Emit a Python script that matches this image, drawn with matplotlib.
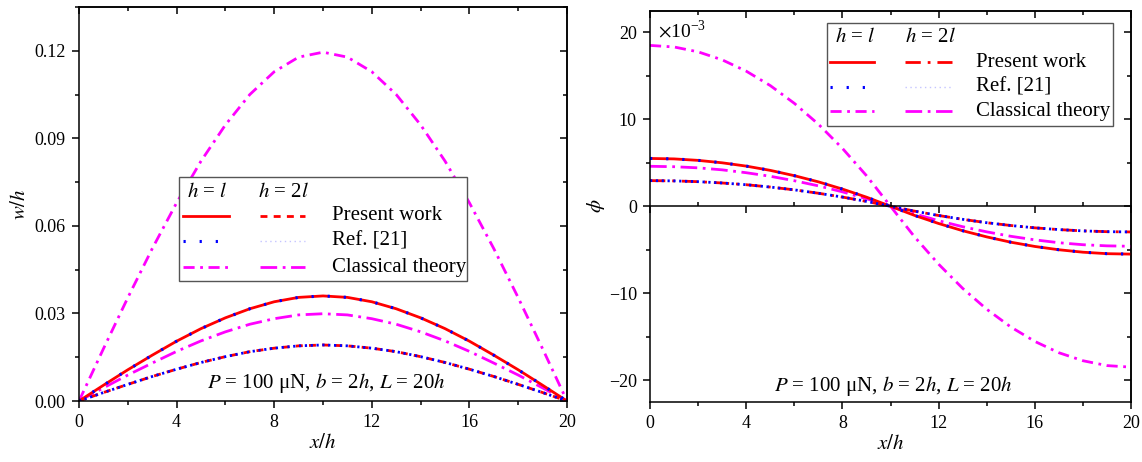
import matplotlib
matplotlib.use('Agg')
import matplotlib.pyplot as plt
from matplotlib.lines import Line2D
from matplotlib.patches import Rectangle
from matplotlib.ticker import MultipleLocator, FormatStrFormatter

plt.rcParams['font.family'] = 'Liberation Serif'
plt.rcParams['mathtext.fontset'] = 'stix'
plt.rcParams['lines.scale_dashes'] = False

# positions along the beam, x/h
x_h = [0, 1, 2, 3, 4, 5, 6, 7, 8, 9, 10, 11, 12, 13, 14, 15, 16, 17, 18, 19, 20]

# deflection w/h
w_present_l = [0, 0.0054, 0.0107, 0.0157, 0.0205, 0.0248, 0.0285, 0.0316, 0.0340, 0.0355, 0.0360,
               0.0355, 0.0340, 0.0316, 0.0285, 0.0248, 0.0205, 0.0157, 0.0107, 0.0054, 0]
w_present_2l = [0, 0.0029, 0.0057, 0.0084, 0.0109, 0.0132, 0.0152, 0.0169, 0.0181, 0.0189, 0.0192,
                0.0189, 0.0181, 0.0169, 0.0152, 0.0132, 0.0109, 0.0084, 0.0057, 0.0029, 0]
w_classic_l = [0, 0.0179, 0.0354, 0.0522, 0.0679, 0.0822, 0.0946, 0.1050, 0.1128, 0.1178, 0.1195,
               0.1178, 0.1128, 0.1050, 0.0946, 0.0822, 0.0679, 0.0522, 0.0354, 0.0179, 0]
w_classic_2l = [0, 0.0045, 0.0089, 0.0130, 0.0170, 0.0206, 0.0237, 0.0263, 0.0282, 0.0295, 0.0299,
                0.0295, 0.0282, 0.0263, 0.0237, 0.0206, 0.0170, 0.0130, 0.0089, 0.0045, 0]

# rotation phi (x 10^-3)
phi_present_l = [5.5, 5.45, 5.28, 5.0, 4.62, 4.13, 3.52, 2.81, 1.98, 1.05, 0,
                 -1.05, -1.98, -2.81, -3.52, -4.13, -4.62, -5.0, -5.28, -5.45, -5.5]
phi_present_2l = [2.95, 2.92, 2.83, 2.68, 2.48, 2.21, 1.89, 1.50, 1.06, 0.56, 0,
                  -0.56, -1.06, -1.50, -1.89, -2.21, -2.48, -2.68, -2.83, -2.92, -2.95]
phi_classic_l = [18.5, 18.32, 17.76, 16.84, 15.54, 13.88, 11.84, 9.44, 6.66, 3.52, 0,
                 -3.52, -6.66, -9.44, -11.84, -13.88, -15.54, -16.84, -17.76, -18.32, -18.5]
phi_classic_2l = [4.6, 4.55, 4.42, 4.19, 3.86, 3.45, 2.94, 2.35, 1.66, 0.87, 0,
                  -0.87, -1.66, -2.35, -2.94, -3.45, -3.86, -4.19, -4.42, -4.55, -4.6]

# Ref. [21] lies on top of the present results
w_ref_l, w_ref_2l = w_present_l, w_present_2l
phi_ref_l, phi_ref_2l = phi_present_l, phi_present_2l

RED, BLUE, MAG = '#ff0000', '#0000ff', '#ff00ff'
LW = 2.0
st_present_l = dict(color=RED, ls='-', lw=LW)
st_present_2l_left = dict(color=RED, ls=(0, (5, 4.5)), lw=LW)
st_present_2l_right = dict(color=RED, ls=(0, (11, 5, 2, 5)), lw=LW)
st_ref_l = dict(color=BLUE, ls=(0, (1.6, 10)), lw=2.2)
st_ref_2l = dict(color=BLUE, ls=(0, (1.6, 2.6)), lw=2.0)
st_ref_2l_key = dict(color='#c4c4ff', ls=(0, (1, 2.5)), lw=1.0)
st_classic_l = dict(color=MAG, ls=(0, (8, 4, 2, 4)), lw=LW)
st_classic_2l = dict(color=MAG, ls=(0, (12, 4, 2, 4)), lw=LW)

FS_TICK = 13
FS_TEXT = 15


def style_axes(ax, xmaj, xmin, ymaj, ymin):
    for s in ax.spines.values():
        s.set_linewidth(1.1)
    ax.xaxis.set_major_locator(MultipleLocator(xmaj))
    ax.xaxis.set_minor_locator(MultipleLocator(xmin))
    ax.yaxis.set_major_locator(MultipleLocator(ymaj))
    ax.yaxis.set_minor_locator(MultipleLocator(ymin))
    ax.tick_params(which='major', direction='out', length=5, width=1.1, labelsize=FS_TICK, pad=4.5)
    ax.tick_params(which='minor', direction='out', length=3, width=1.1)
    # inward ticks on the top and right frame
    top = ax.secondary_xaxis('top')
    top.xaxis.set_major_locator(MultipleLocator(xmaj))
    top.xaxis.set_minor_locator(MultipleLocator(xmin))
    top.tick_params(which='major', direction='in', length=5, width=1.1, labeltop=False)
    top.tick_params(which='minor', direction='in', length=3, width=1.1)
    right = ax.secondary_yaxis('right')
    right.yaxis.set_major_locator(MultipleLocator(ymaj))
    right.yaxis.set_minor_locator(MultipleLocator(ymin))
    right.tick_params(which='major', direction='in', length=5, width=1.1, labelright=False)
    right.tick_params(which='minor', direction='in', length=3, width=1.1)
    for sec in (top, right):
        for s in sec.spines.values():
            s.set_linewidth(1.1)


def draw_key(ax, box, header_y, row_y, h1, h2, hx1, hx2, text_x, rows):
    tr = ax.transAxes
    ax.add_patch(Rectangle((box[0], box[1]), box[2] - box[0], box[3] - box[1], transform=tr,
                           facecolor='white', edgecolor='#555555', lw=1.0, zorder=6))
    ax.text(hx1, header_y, r'$h$ = $l$', transform=tr, fontsize=FS_TEXT, va='center', zorder=7)
    ax.text(hx2, header_y, r'$h$ = 2$l$', transform=tr, fontsize=FS_TEXT, va='center', zorder=7)
    for y, (s1, s2, label) in zip(row_y, rows):
        ax.add_line(Line2D(h1, [y, y], transform=tr, zorder=7, **s1))
        ax.add_line(Line2D(h2, [y, y], transform=tr, zorder=7, **s2))
        ax.text(text_x, y, label, transform=tr, fontsize=FS_TEXT, va='center', zorder=7)


fig = plt.figure(figsize=(11.42, 4.62), dpi=100)
ax1 = fig.add_axes([0.0692, 0.132, 0.4273, 0.853])
ax2 = fig.add_axes([0.5692, 0.130, 0.4212, 0.847])

# left panel: deflection
ax1.plot(x_h, w_classic_l, **st_classic_l)
ax1.plot(x_h, w_classic_2l, **st_classic_2l)
ax1.plot(x_h, w_present_l, **st_present_l)
ax1.plot(x_h, w_present_2l, **st_present_2l_left)
ax1.plot(x_h, w_ref_l, **st_ref_l)
ax1.plot(x_h, w_ref_2l, **st_ref_2l)
ax1.set_xlim(0, 20)
ax1.set_ylim(0, 0.135)
style_axes(ax1, 4, 2, 0.03, 0.015)
ax1.yaxis.set_major_formatter(FormatStrFormatter('%.2f'))
ax1.set_xlabel(r'$x/h$', fontsize=FS_TEXT, labelpad=2)
ax1.set_ylabel(r'$w/h$', fontsize=FS_TEXT, labelpad=3)
ax1.text(0.508, 0.045, r'$P$ = 100 μN, $b$ = 2$h$, $L$ = 20$h$', transform=ax1.transAxes,
         fontsize=FS_TEXT, ha='center', va='center')
draw_key(ax1, (0.205, 0.305, 0.795, 0.569), 0.530, [0.470, 0.406, 0.340],
         [0.213, 0.307], [0.371, 0.463], 0.222, 0.366, 0.518,
         [(st_present_l, st_present_2l_left, 'Present work'),
          (st_ref_l, st_ref_2l_key, 'Ref. [21]'),
          (st_classic_l, st_classic_2l, 'Classical theory')])

# right panel: rotation
ax2.plot(x_h, phi_classic_l, **st_classic_l)
ax2.plot(x_h, phi_classic_2l, **st_classic_2l)
ax2.plot(x_h, phi_present_l, **st_present_l)
ax2.plot(x_h, phi_present_2l, **st_present_2l_right)
ax2.plot(x_h, phi_ref_l, **st_ref_l)
ax2.plot(x_h, phi_ref_2l, **st_ref_2l)
ax2.set_xlim(0, 20)
ax2.set_ylim(-22.5, 22.5)
style_axes(ax2, 4, 2, 10, 5)
ax2.set_xlabel(r'$x/h$', fontsize=FS_TEXT, labelpad=2)
ax2.set_ylabel(r'$\phi$', fontsize=FS_TEXT, labelpad=1)
ax2.text(0.017, 0.95, r'$\times$10$^{\mathregular{-3}}$', transform=ax2.transAxes,
         fontsize=14, ha='left', va='center')
ax2.text(0.505, 0.04, r'$P$ = 100 μN, $b$ = 2$h$, $L$ = 20$h$', transform=ax2.transAxes,
         fontsize=FS_TEXT, ha='center', va='center')

# zero axis line with its own ticks
zero = ax2.twiny()
zero.set_xlim(0, 20)
for side in ('top', 'left', 'right'):
    zero.spines[side].set_visible(False)
zero.spines['bottom'].set_position(('data', 0))
zero.spines['bottom'].set_linewidth(1.1)
zero.xaxis.set_ticks_position('bottom')
zero.xaxis.set_major_locator(MultipleLocator(4))
zero.xaxis.set_minor_locator(MultipleLocator(2))
zero.tick_params(which='major', direction='out', length=5, width=1.1, labelbottom=False)
zero.tick_params(which='minor', direction='in', length=3, width=1.1)

draw_key(ax2, (0.368, 0.705, 0.963, 0.968), 0.932, [0.868, 0.805, 0.743],
         [0.374, 0.466], [0.530, 0.628], 0.385, 0.530, 0.678,
         [(st_present_l, st_present_2l_right, 'Present work'),
          (st_ref_l, st_ref_2l_key, 'Ref. [21]'),
          (st_classic_l, st_classic_2l, 'Classical theory')])

fig.savefig('out.png', dpi=100)
